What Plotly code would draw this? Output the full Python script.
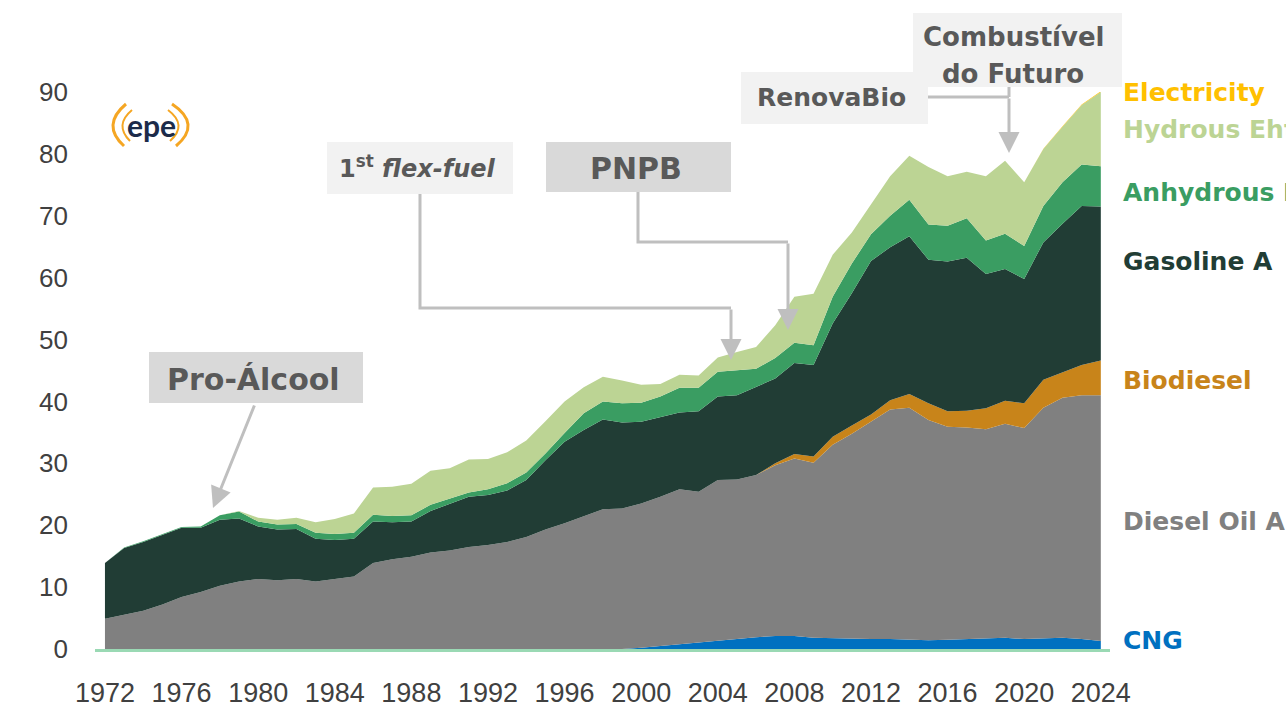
import plotly.graph_objects as go

years = list(range(1972, 2025))

cng = [0, 0, 0, 0, 0, 0, 0, 0, 0, 0, 0, 0, 0, 0, 0, 0, 0, 0, 0, 0, 0, 0, 0, 0, 0, 0, 0, 0,
       0.2, 0.5, 0.8, 1.0, 1.3, 1.6, 1.9, 2.1, 2.1, 1.8, 1.7, 1.7, 1.6, 1.6, 1.5, 1.4, 1.5,
       1.6, 1.8, 1.8, 1.6, 1.7, 1.8, 1.6, 1.3]
diesel = [4.9, 5.6, 6.2, 7.2, 8.4, 9.2, 10.2, 10.9, 11.3, 11.1, 11.3, 10.9, 11.3, 11.7,
          13.9, 14.5, 14.9, 15.6, 15.9, 16.5, 16.8, 17.3, 18.1, 19.3, 20.3, 21.5, 22.6, 22.7,
          23.3, 24.1, 25.0, 24.4, 26.0, 25.8, 26.2, 27.6, 28.7, 28.3, 31.3, 33.1, 35.1, 37.1,
          37.5, 35.6, 34.4, 34.2, 33.7, 34.6, 34.1, 37.3, 38.8, 39.4, 39.7]
biodiesel = [0, 0, 0, 0, 0, 0, 0, 0, 0, 0, 0, 0, 0, 0, 0, 0, 0, 0, 0, 0, 0, 0, 0, 0, 0, 0,
             0, 0, 0, 0, 0, 0, 0, 0, 0,
             0.3, 0.7, 1.0, 1.3, 1.3, 1.2, 1.5, 2.2, 2.7, 2.5, 2.7, 3.4, 3.7, 4.0, 4.5, 4.1,
             4.9, 5.6]
gasoline = [9.0, 10.7, 11.1, 11.2, 11.2, 10.4, 10.7, 10.2, 8.5, 8.2, 8.1, 6.9, 6.3, 6.1,
            6.7, 6.0, 5.7, 6.7, 7.6, 8.1, 8.1, 8.3, 9.2, 11.2, 13.2, 13.9, 14.5, 13.9,
            13.2, 12.9, 12.4, 13.0, 13.5, 13.6, 14.2, 13.7, 14.7, 14.8, 18.3, 21.4, 24.8,
            24.7, 25.5, 23.2, 24.2, 24.7, 21.7, 21.3, 20.1, 22.2, 24.0, 25.7, 24.9]
anhydrous = [0, 0.1, 0.1, 0.1, 0.1, 0.2, 0.7, 1.1, 0.8, 0.8, 0.8, 1.0, 1.0, 1.0, 1.1, 1.0,
             1.0, 1.0, 0.8, 0.7, 0.9, 1.2, 1.2, 1.1, 1.4, 2.7, 2.9, 3.1,
             3.1, 3.3, 4.0, 3.8, 4.0, 4.1, 3.0, 3.3, 3.3, 3.2, 4.3, 4.8, 4.3, 5.1, 5.9, 5.7,
             5.8, 6.4, 5.4, 5.7, 5.3, 5.9, 6.7, 6.7, 6.5]
hydrous = [0, 0, 0, 0, 0, 0, 0, 0.1, 0.6, 0.8, 1.0, 1.7, 2.4, 3.1, 4.4, 4.7, 5.1, 5.5,
           4.9, 5.3, 4.9, 5.0, 5.2, 5.2, 5.1, 4.2, 4.0, 3.7,
           2.9, 2.0, 2.1, 2.0, 2.3, 2.9, 3.5, 5.3, 7.4, 8.3, 6.8, 5.0, 4.8, 6.4, 7.1, 9.3,
           8.0, 7.5, 10.4, 11.8, 10.3, 9.2, 9.0, 9.6, 12.0]
electricity = [0, 0, 0, 0, 0, 0, 0, 0, 0, 0, 0, 0, 0, 0, 0, 0, 0, 0, 0, 0, 0, 0, 0, 0, 0,
               0, 0, 0, 0, 0, 0, 0, 0, 0, 0, 0, 0, 0, 0, 0, 0, 0, 0, 0, 0, 0, 0, 0,
               0.02, 0.03, 0.05, 0.08, 0.12]

series_names = ["CNG", "Diesel Oil A", "Biodiesel", "Gasoline A",
                "Anhydrous Ethanol", "Hydrous Ethanol", "Electricity"]
series_values = [cng, diesel, biodiesel, gasoline, anhydrous, hydrous, electricity]
series_colors = ["#0070C0", "#808080", "#C8841A", "#213D35", "#3A9D62", "#BCD494", "#FFC000"]

label_texts = ["CNG", "Diesel Oil A", "Biodiesel", "Gasoline A",
               "Anhydrous Ethanol", "Hydrous Ehtanol", "Electricity"]
label_ypx = [640, 521, 381, 261, 192, 130, 92]

W, H = 1286, 719
L, R, T, B = 95, 176, 92, 61
PW = W - L - R
PH = 557


def px(x):
    return (x - L) / PW


def py(y):
    return (T + PH - y) / PH


fig = go.Figure()
for name, vals, col in zip(series_names, series_values, series_colors):
    fig.add_trace(go.Scatter(
        x=years, y=vals, name=name, mode="lines", stackgroup="one",
        line=dict(width=0, color=col), fillcolor=col, hoverinfo="skip"))

shapes = []
annotations = []

lab_font = "DejaVu Sans"

# right-hand labels
for txt, ypx, col in zip(label_texts, label_ypx, series_colors):
    annotations.append(dict(
        x=px(1121), y=py(ypx), xref="paper", yref="paper", xanchor="left", yanchor="middle",
        text="<b>%s</b>" % txt, showarrow=False,
        font=dict(family=lab_font, size=25, color=col)))

txt_col = "#595959"
arrow_col = "#BFBFBF"


def box(x0, y0, x1, y1, fill):
    shapes.append(dict(type="rect", xref="paper", yref="paper",
                       x0=px(x0), x1=px(x1), y0=py(y1), y1=py(y0),
                       fillcolor=fill, line=dict(width=0), layer="above"))


def label(x, y, text, size):
    annotations.append(dict(x=px(x), y=py(y), xref="paper", yref="paper",
                            xanchor="center", yanchor="middle", text=text, showarrow=False,
                            font=dict(family=lab_font, size=size, color=txt_col)))


def poly(points):
    d = "M %f,%f " % (px(points[0][0]), py(points[0][1]))
    for (xx, yy) in points[1:]:
        d += "L %f,%f " % (px(xx), py(yy))
    shapes.append(dict(type="path", xref="paper", yref="paper", path=d,
                       line=dict(color=arrow_col, width=3), layer="above"))


def arrow(x0, y0, x1, y1):
    annotations.append(dict(x=px(x1), y=py(y1), xref="paper", yref="paper",
                            ax=x0 - x1, ay=y0 - y1, axref="pixel", ayref="pixel",
                            text="", showarrow=True, arrowhead=2, arrowsize=1.4,
                            arrowwidth=3, arrowcolor=arrow_col, standoff=0))


# Pro-Alcool
box(149, 352, 363, 403, "#D9D9D9")
label(253, 379, "<b>Pro-Álcool</b>", 30)
arrow(255, 404, 213, 508)

# 1st flex-fuel
box(327, 142, 513, 194, "#F2F2F2")
label(417, 167, "<b>1<sup>st</sup> <i>flex-fuel</i></b>", 24)
poly([(420, 194), (420, 308), (731, 308)])
arrow(731, 308, 731, 360)

# PNPB
box(546, 142, 731, 192, "#D9D9D9")
label(636, 168, "<b>PNPB</b>", 30)
poly([(638, 192), (638, 242), (788, 242)])
arrow(788, 242, 788, 330)

# Combustivel do Futuro
box(913, 13, 1122, 87, "#F2F2F2")
label(1013, 37, "<b>Combustível</b>", 26)
label(1013, 74, "<b>do Futuro</b>", 26)

# RenovaBio
box(741, 72, 928, 124, "#F2F2F2")
label(831, 97, "<b>RenovaBio</b>", 25)
poly([(928, 97), (1009, 97)])
poly([(1009, 87), (1009, 97)])
arrow(1009, 97, 1009, 153)

# epe logo
orange = "#F5A623"
for d, w in [([(126, 104), (101, 125), (124, 146)], 3), ([(132, 110), (114, 125), (130, 141)], 2),
             ([(172, 104), (202, 124), (176, 146)], 3), ([(168, 110), (188, 125), (170, 141)], 2)]:
    (a, b), (c, e), (f, g) = d
    shapes.append(dict(type="path", xref="paper", yref="paper",
                       path="M %f,%f Q %f,%f %f,%f" % (px(a), py(b), px(c), py(e), px(f), py(g)),
                       line=dict(color=orange, width=w)))
annotations.append(dict(x=px(151), y=py(125), xref="paper", yref="paper", showarrow=False,
                        text="<b>epe</b>", xanchor="center", yanchor="middle",
                        font=dict(family="Lato", size=30, color="#1C2B4A")))

x_font = dict(family="Liberation Sans, Arial", size=27, color="#404040")
y_font = dict(family="Liberation Sans, Arial", size=26, color="#404040")

fig.update_layout(
    width=W, height=H,
    margin=dict(l=L, r=R, t=T, b=H - T - PH),
    paper_bgcolor="white", plot_bgcolor="white",
    showlegend=False,
    shapes=shapes, annotations=annotations,
    xaxis=dict(range=[1971.48, 2024.48], tickmode="array",
               tickvals=list(range(1972, 2025, 4)), ticktext=[str(v) for v in range(1972, 2025, 4)],
               showgrid=False, zeroline=False, showline=True, linecolor="#9AD9B4", linewidth=3,
               ticks="", tickfont=x_font, ticklabelstandoff=18, fixedrange=True),
    yaxis=dict(range=[0, 90], tickmode="array", tickvals=list(range(0, 91, 10)),
               showgrid=False, zeroline=False, showline=False, ticks="",
               tickfont=y_font, ticklabelstandoff=26, fixedrange=True),
)

fig.write_html("out.html", config={"displayModeBar": False},
               post_script="document.body.style.margin='0';document.body.style.overflow='hidden';")
